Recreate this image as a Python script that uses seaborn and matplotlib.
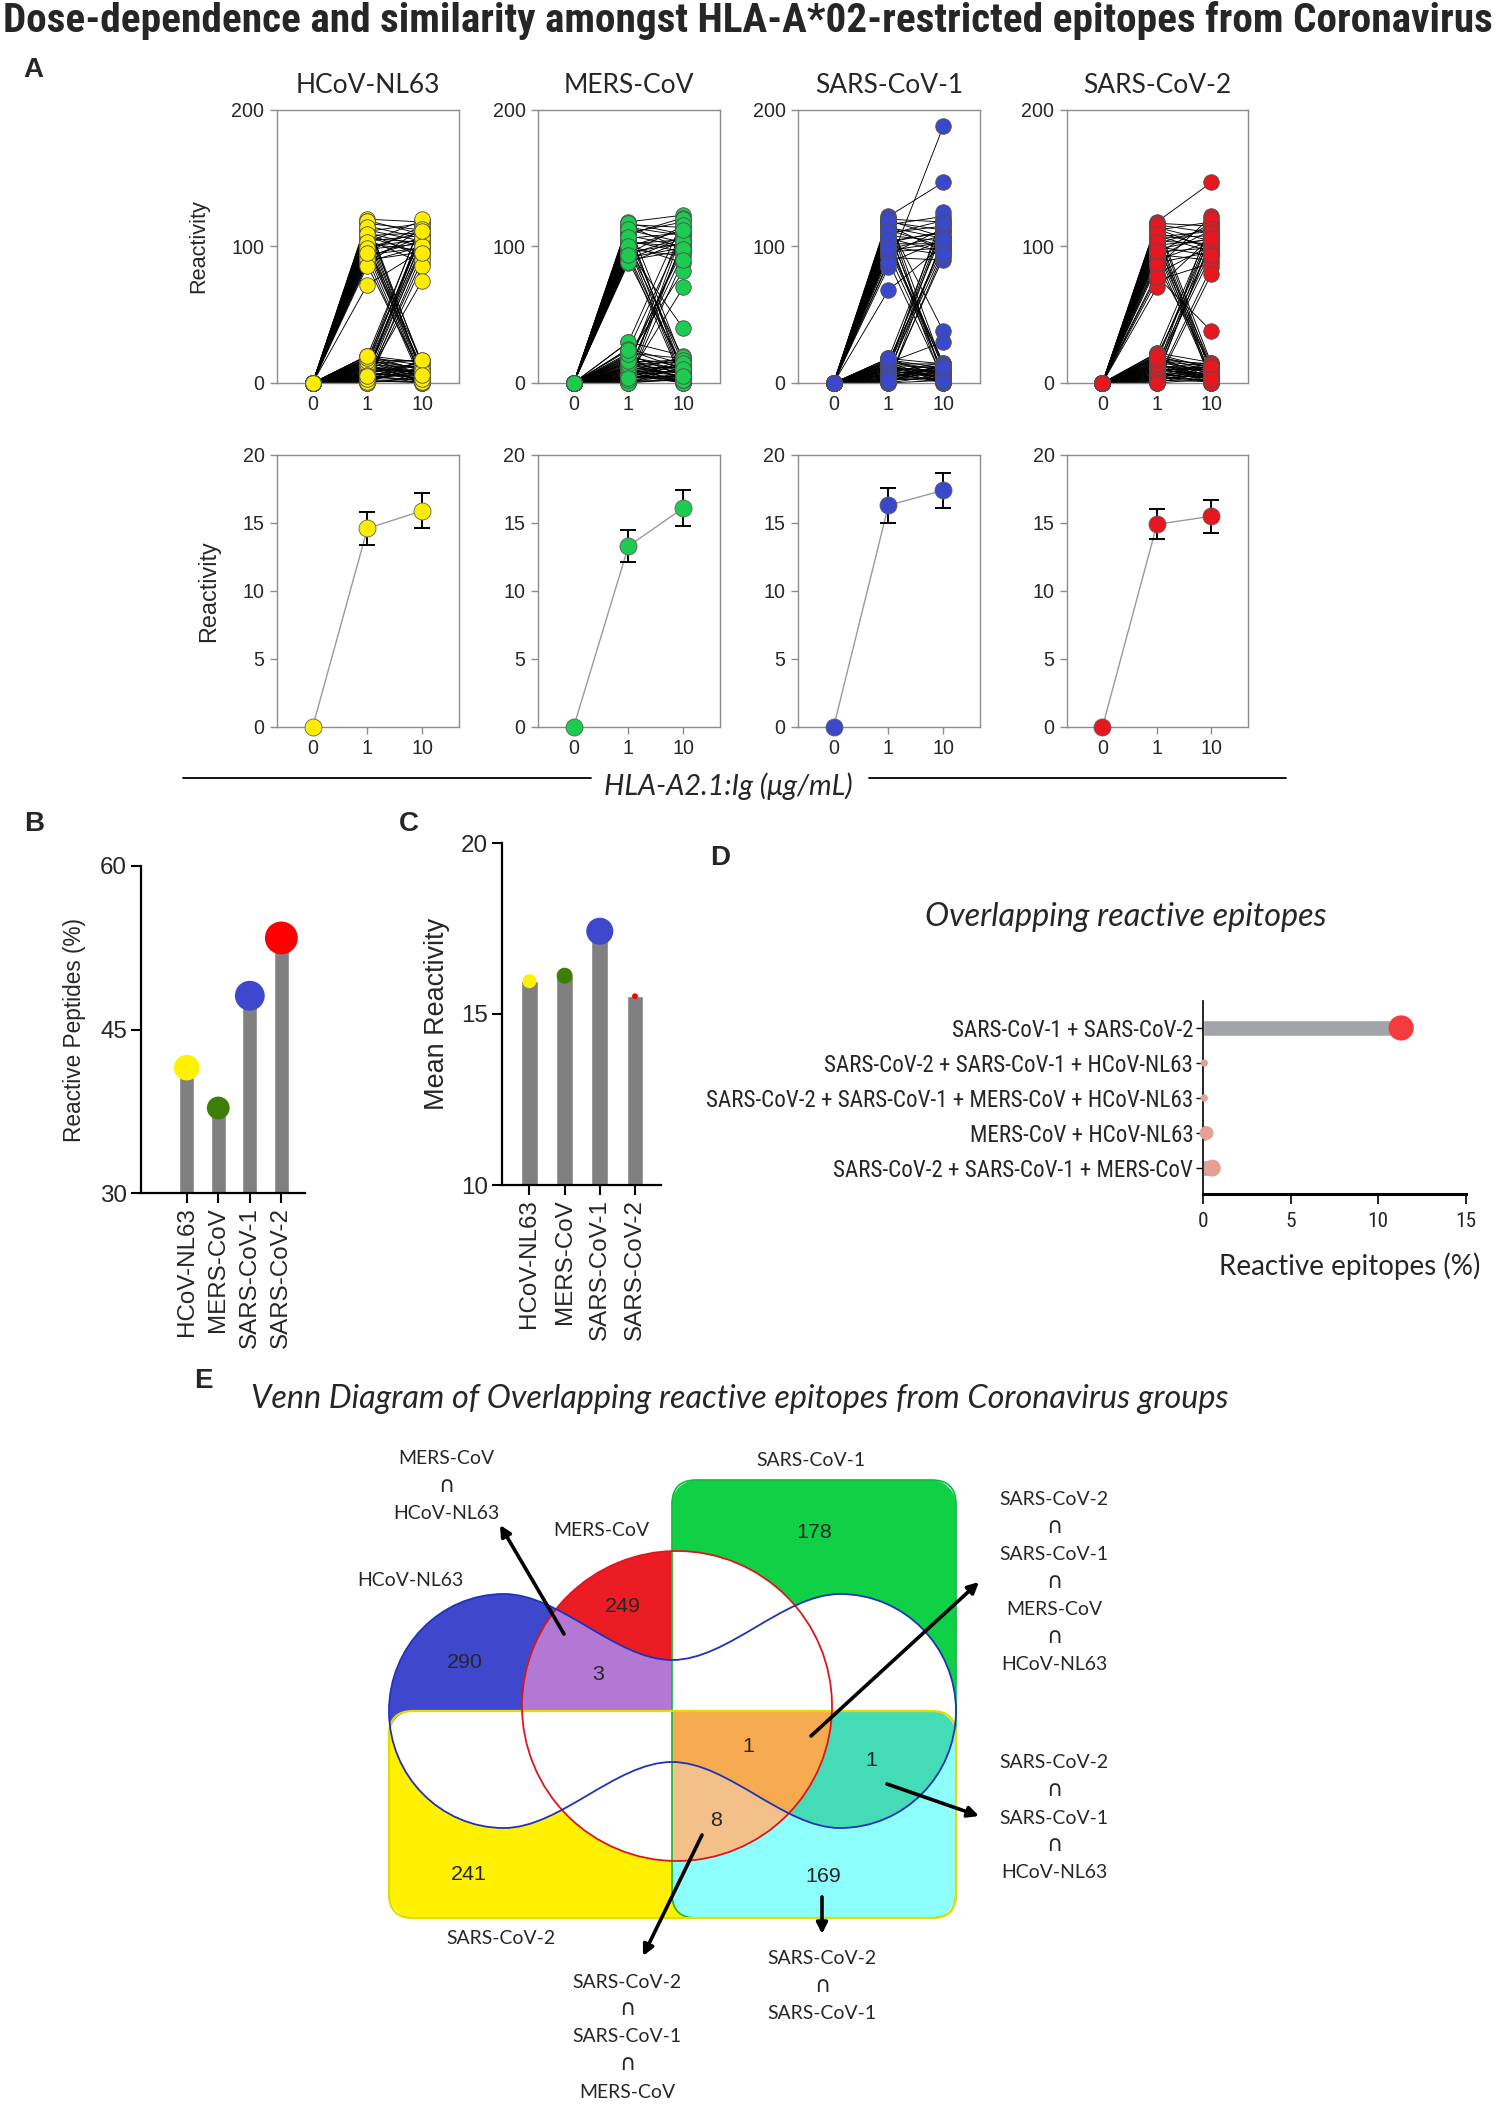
import os
import numpy as np
import pandas as pd
import matplotlib
matplotlib.use("Agg")
import matplotlib.pyplot as plt
import seaborn as sns
from matplotlib import font_manager as fm
from matplotlib.font_manager import FontProperties
from matplotlib.path import Path
from matplotlib.patches import PathPatch, FancyBboxPatch, Circle

# ----------------------------------------------------------------- data
VIRUSES = ["HCoV-NL63", "MERS-CoV", "SARS-CoV-1", "SARS-CoV-2"]
DOSES = ["0", "1", "10"]
DOSE0_REACTIVITY = 0

# per-peptide reactivity at dose 1 and dose 10 (dose 0 is 0 for all)
HCOV_PAIRS = [(120, 118), (117, 112), (115, 106), (112, 104), (110, 100), (108, 110), (106, 103),
              (104, 108), (102, 97), (100, 105), (98, 102), (96, 115), (94, 99), (92, 107), (90, 96),
              (88, 113), (105, 88), (110, 92), (119, 109), (111, 117), (107, 95), (103, 119), (99, 111),
              (93, 104), (89, 100), (118, 12), (113, 6), (107, 3), (101, 15), (97, 9), (91, 0), (86, 5),
              (119, 4), (114, 14), (109, 8), (103, 1), (99, 11), (95, 2), (72, 97), (20, 118), (15, 110),
              (12, 104), (8, 98), (5, 115), (3, 90), (0, 86), (10, 101), (18, 108), (16, 120), (13, 113),
              (9, 106), (4, 100), (1, 95), (7, 111), (20, 15), (18, 10), (16, 5), (14, 17), (12, 2),
              (10, 8), (8, 13), (6, 0), (4, 6), (2, 11), (1, 3), (0, 0), (3, 14), (7, 4), (11, 9),
              (13, 1), (17, 7), (19, 13), (17, 16), (15, 4), (13, 12), (11, 0), (9, 6), (7, 15), (5, 2),
              (3, 8), (1, 12), (0, 5), (2, 0), (4, 16), (6, 10), (8, 3), (10, 14), (12, 7), (14, 1),
              (16, 11), (18, 5), (20, 9), (0, 17), (1, 1), (3, 3), (6, 6), (5, 75)]
MERS_PAIRS = [(118, 123), (116, 114), (114, 108), (112, 103), (110, 118), (108, 100), (106, 110),
              (104, 96), (102, 105), (100, 112), (98, 93), (96, 102), (94, 107), (92, 99), (90, 97),
              (88, 104), (115, 98), (101, 88), (117, 109), (109, 121), (103, 100), (95, 115),
              (91, 106), (117, 15), (111, 8), (105, 3), (99, 18), (93, 0), (89, 11), (97, 40),
              (113, 5), (107, 13), (100, 1), (94, 9), (30, 120), (25, 110), (20, 82), (15, 101),
              (10, 95), (5, 70), (0, 106), (12, 116), (8, 104), (3, 112), (18, 98), (1, 90),
              (22, 18), (30, 20), (25, 14), (20, 8), (18, 2), (15, 17), (12, 5), (10, 12), (8, 0),
              (6, 9), (4, 3), (2, 15), (1, 6), (0, 0), (3, 11), (7, 1), (9, 19), (14, 4), (16, 10),
              (11, 7), (5, 13), (19, 12), (17, 3), (13, 16), (11, 1), (9, 8), (7, 14), (5, 4), (3, 10),
              (1, 2), (0, 12), (2, 7), (4, 17), (6, 0), (8, 6), (10, 2), (12, 11), (14, 8), (16, 15),
              (21, 5), (24, 10), (0, 3), (2, 2), (4, 5)]
SARS1_PAIRS = [(122, 147), (120, 118), (118, 112), (116, 122), (114, 106), (112, 100), (110, 115),
               (108, 104), (106, 96), (104, 110), (102, 102), (100, 94), (98, 108), (96, 99),
               (94, 113), (92, 90), (88, 105), (85, 188), (68, 101), (119, 107), (115, 97), (109, 119),
               (103, 111), (97, 103), (121, 12), (113, 5), (107, 0), (101, 15), (95, 8), (89, 3),
               (117, 38), (119, 2), (111, 10), (105, 6), (99, 13), (18, 120), (15, 111), (12, 103),
               (9, 97), (6, 116), (3, 92), (0, 107), (10, 125), (16, 99), (13, 117), (7, 105), (1, 95),
               (18, 14), (16, 6), (14, 0), (13, 11), (11, 3), (10, 9), (8, 15), (7, 1), (5, 7),
               (4, 12), (2, 4), (1, 10), (0, 0), (3, 13), (6, 2), (9, 5), (12, 8), (15, 30), (17, 11),
               (15, 2), (14, 14), (12, 4), (10, 0), (8, 7), (6, 12), (4, 1), (2, 9), (0, 6), (1, 14),
               (3, 3), (5, 10), (7, 5), (9, 13), (11, 8), (13, 1), (16, 9), (18, 4), (0, 2), (2, 12)]
SARS2_PAIRS = [(118, 147), (116, 110), (114, 104), (112, 118), (110, 100), (108, 96), (106, 108),
               (104, 102), (102, 114), (100, 93), (98, 106), (96, 99), (94, 90), (92, 112), (90, 104),
               (88, 96), (85, 122), (80, 101), (75, 88), (70, 107), (117, 115), (113, 98), (107, 111),
               (101, 105), (95, 117), (117, 14), (111, 6), (105, 0), (99, 10), (93, 3), (87, 12),
               (78, 38), (115, 9), (109, 2), (103, 13), (97, 5), (22, 116), (18, 109), (14, 98),
               (10, 120), (6, 104), (2, 85), (0, 80), (16, 113), (20, 101), (12, 94), (8, 110),
               (4, 106), (22, 15), (20, 8), (18, 2), (16, 12), (14, 5), (12, 0), (10, 10), (8, 14),
               (6, 4), (4, 9), (2, 1), (1, 13), (0, 0), (3, 6), (5, 11), (7, 3), (9, 7), (11, 15),
               (13, 2), (15, 9), (21, 11), (19, 4), (17, 14), (15, 0), (13, 8), (11, 3), (9, 12),
               (7, 6), (5, 1), (3, 15), (1, 5), (0, 10), (2, 8), (4, 2), (6, 13), (8, 0), (10, 5),
               (12, 11), (14, 3), (17, 7), (19, 12), (0, 3)]
PAIRS = [HCOV_PAIRS, MERS_PAIRS, SARS1_PAIRS, SARS2_PAIRS]

MEAN_D1 = [14.6, 13.3, 16.3, 14.9]
MEAN_D10 = [15.9, 16.1, 17.4, 15.5]
SEM_D1 = [1.2, 1.2, 1.3, 1.1]
SEM_D10 = [1.3, 1.3, 1.3, 1.2]

REACTIVE_PCT = [41.5, 37.8, 48.1, 53.4]
MEAN_REACTIVITY = [15.96, 16.12, 17.42, 15.52]

COMBOS = ["SARS-CoV-1 + SARS-CoV-2",
          "SARS-CoV-2 + SARS-CoV-1 + HCoV-NL63",
          "SARS-CoV-2 + SARS-CoV-1 + MERS-CoV + HCoV-NL63",
          "MERS-CoV + HCoV-NL63",
          "SARS-CoV-2 + SARS-CoV-1 + MERS-CoV"]
OVERLAP_PCT = [11.3, 0.07, 0.07, 0.2, 0.53]

VENN_COUNTS = {"HCoV-NL63": 290, "MERS-CoV": 249, "MERS∩HCoV": 3, "SARS-CoV-1": 178,
               "SARS-CoV-2": 241, "S2∩S1": 169, "S2∩S1∩MERS∩HCoV": 1, "S2∩S1∩HCoV": 1,
               "S2∩S1∩MERS": 8}

# ----------------------------------------------------------------- fonts
sns.set_theme(style="ticks")
avail = {f.name for f in fm.fontManager.ttflist}


def pick(*names):
    for n in names:
        if n in avail:
            return n
    return "DejaVu Sans"


ARIAL = pick("Liberation Sans", "DejaVu Sans")
CAL = pick("Lato", "Open Sans", "Noto Sans")
plt.rcParams["font.family"] = [ARIAL, "DejaVu Sans"]


def find_condensed(bold):
    prefs = ["liberationsansnarrow", "robotocondensed", "opensanscondensed", "opensans_condensed",
             "notosanscondensed", "dejavusanscondensed", "condensed", "narrow"]
    files = []
    for f in fm.fontManager.ttflist:
        base = os.path.basename(f.fname).lower().replace("-", "").replace(" ", "")
        w = f.weight if isinstance(f.weight, int) else (700 if "bold" in str(f.weight) else 400)
        isbold = w >= 600 or "bold" in base
        if isbold != bold or f.style != "normal" or "italic" in base or "oblique" in base:
            continue
        if bold and ("semibold" in base or "extrabold" in base or "black" in base):
            continue
        if not bold and ("light" in base or "thin" in base or "medium" in base):
            continue
        files.append((base, f.fname))
    for p in prefs:
        for base, fn in files:
            if p in base:
                return fn
    return None


NARROW_FILE = find_condensed(False)
NARROWB_FILE = find_condensed(True)


def fp_narrow(size, bold=False):
    fn = NARROWB_FILE if bold else NARROW_FILE
    if fn:
        return FontProperties(fname=fn, size=size)
    return FontProperties(family=ARIAL, size=size, weight="bold" if bold else "normal")


COL_A = ["#ffec00", "#1ccb4f", "#3b48cc", "#e8161e"]
COL_B = ["#fff200", "#3d7e08", "#3f48cc", "#ff0000"]

W, H = 1497, 2104
fig = plt.figure(figsize=(W / 100, H / 100), dpi=100)
fig.patch.set_facecolor("white")
R = fig.canvas.get_renderer()


def add_ax(l, t, r, b):
    return fig.add_axes([l / W, 1 - b / H, (r - l) / W, (b - t) / H])


def tsize(s, target, family=None, weight="normal", style="normal", fprop=None):
    if fprop is not None:
        fprop = fprop.copy()
        fprop.set_size(10)
        t = fig.text(0, 0, s, fontproperties=fprop)
    else:
        t = fig.text(0, 0, s, fontsize=10, family=family, weight=weight, style=style)
    w = t.get_window_extent(R).width
    t.remove()
    return 10 * target / w


ov = fig.add_axes([0, 0, 1, 1])
ov.set_xlim(0, W)
ov.set_ylim(H, 0)
ov.axis("off")

TITLE = "Dose-dependence and similarity amongst HLA-A*02-restricted epitopes from Coronavirus"
ft = fp_narrow(10, bold=True)
ft.set_size(tsize(TITLE, 1488, fprop=ft))
ov.text(748, 21, TITLE, ha="center", va="center", fontproperties=ft)
for s, (x, y) in zip("ABCDE", [(33, 70), (34, 824), (409, 824), (720, 858), (203, 1381)]):
    ov.text(x, y, s, ha="center", va="center", weight="bold", fontsize=20, family=ARIAL)

# ----------------------------------------------------------------- panel A
A_X = [(277, 459), (538, 720), (798, 980), (1067, 1248)]
A_TOP = (110, 383)
A_BOT = (455, 727)
fs_tickA = tsize("200", 33, ARIAL)
fs_titleA = tsize("HCoV-NL63", 144, CAL)


def style_A(ax):
    for sp in ax.spines.values():
        sp.set_visible(True)
        sp.set_color("#8c8c8c")
        sp.set_linewidth(1.0)
    ax.tick_params(length=5, width=1, color="#8c8c8c", pad=4, labelsize=fs_tickA)
    ax.set_xlabel("")
    for lab in ax.get_xticklabels() + ax.get_yticklabels():
        lab.set_family(ARIAL)


for i, v in enumerate(VIRUSES):
    rows = []
    for k, (a, b) in enumerate(PAIRS[i]):
        for d, val in zip(DOSES, (DOSE0_REACTIVITY, a, b)):
            rows.append(dict(peptide=k, dose=d, pos=DOSES.index(d), reactivity=val))
    df = pd.DataFrame(rows)
    ax = add_ax(A_X[i][0], A_TOP[0], A_X[i][1], A_TOP[1])
    sns.lineplot(data=df, x="pos", y="reactivity", units="peptide", estimator=None,
                 color="black", lw=0.65, ax=ax, legend=False, zorder=2)
    sns.scatterplot(data=df, x="pos", y="reactivity", color=COL_A[i], s=125,
                    edgecolor="#505050", linewidth=0.6, ax=ax, zorder=3, legend=False, clip_on=False)
    for ln in ax.lines:
        ln.set_clip_on(False)
    ax.set_xlim(-0.65, 2.67)
    ax.set_ylim(0, 200)
    ax.set_yticks([0, 100, 200])
    ax.set_xticks(range(len(DOSES)), DOSES)
    ax.set_ylabel("Reactivity" if i == 0 else "", fontsize=tsize("Reactivity", 94, ARIAL), family=ARIAL)
    ax.yaxis.set_label_coords(-0.37, 0.5)
    ax.set_title(v, fontsize=fs_titleA, family=CAL, pad=12)
    style_A(ax)

    axb = add_ax(A_X[i][0], A_BOT[0], A_X[i][1], A_BOT[1])
    dfm = pd.DataFrame({"pos": range(len(DOSES)),
                        "mean": [DOSE0_REACTIVITY, MEAN_D1[i], MEAN_D10[i]],
                        "sem": [0, SEM_D1[i], SEM_D10[i]]})
    sns.lineplot(data=dfm, x="pos", y="mean", color="#9a9a9a", lw=1.0, ax=axb, legend=False, zorder=2)
    axb.errorbar(dfm["pos"][1:], dfm["mean"][1:], yerr=dfm["sem"][1:], fmt="none", ecolor="black",
                 elinewidth=1.4, capsize=6, capthick=1.4, zorder=2.5)
    sns.scatterplot(data=dfm, x="pos", y="mean", color=COL_A[i], s=150, edgecolor="#606060",
                    linewidth=0.6, ax=axb, zorder=3, legend=False, clip_on=False)
    axb.set_xlim(-0.65, 2.67)
    axb.set_ylim(0, 20)
    axb.set_yticks([0, 5, 10, 15, 20])
    axb.set_xticks(range(len(DOSES)), DOSES)
    axb.set_ylabel("Reactivity" if i == 0 else "", fontsize=tsize("Reactivity", 102, ARIAL), family=ARIAL)
    axb.yaxis.set_label_coords(-0.31, 0.5)
    style_A(axb)

ov.plot([183, 591], [778, 778], color="black", lw=1.3)
ov.plot([869, 1286], [778, 778], color="black", lw=1.3)
ov.text(728, 786, "HLA-A2.1:Ig (μg/mL)", ha="center", va="center", style="italic",
        family=[CAL, "DejaVu Sans"],
        fontsize=tsize("HLA-A2.1:Ig (μg/mL)", 249, [CAL, "DejaVu Sans"], style="italic"))

# ----------------------------------------------------------------- panels B, C
fs_tickBC = tsize("60", 27, ARIAL)
fs_catBC = tsize("HCoV-NL63", 129, ARIAL)


def style_BC(ax):
    sns.despine(ax=ax)
    for sp in ("left", "bottom"):
        ax.spines[sp].set_color("black")
        ax.spines[sp].set_linewidth(1.6)
    ax.tick_params(length=7, width=1.5, color="black", labelsize=fs_tickBC, pad=3)
    ax.tick_params(axis="x", labelsize=fs_catBC)
    ax.set_xlabel("")


dfB = pd.DataFrame({"virus": VIRUSES, "pct": REACTIVE_PCT, "mean": MEAN_REACTIVITY})
dfB["pos"] = np.arange(len(VIRUSES))
pal = dict(zip(VIRUSES, COL_B))

axB = add_ax(141, 866, 305, 1193)
sns.barplot(data=dfB, x="pos", y="pct", native_scale=True, width=0.48, color="#808080",
            saturation=1, errorbar=None, ax=axB, zorder=2)
sns.scatterplot(data=dfB, x="pos", y="pct", hue="virus", palette=pal, size="pct", sizes=(270, 560),
                edgecolor="none", legend=False, ax=axB, zorder=3, clip_on=False)
axB.set_xlim(-1.45, 3.75)
axB.set_ylim(30, 60)
axB.set_yticks([30, 45, 60])
axB.set_xticks(dfB["pos"], VIRUSES, rotation=90)
axB.set_ylabel("Reactive Peptides (%)", fontsize=tsize("Reactive Peptides (%)", 225, ARIAL), labelpad=10)
style_BC(axB)

axC = add_ax(502, 843, 661, 1185)
sns.barplot(data=dfB, x="pos", y="mean", native_scale=True, width=0.48, color="#808080",
            saturation=1, errorbar=None, ax=axC, zorder=2)
sns.scatterplot(data=dfB, x="pos", y="mean", hue="virus", palette=pal, size="mean", sizes=(18, 380),
                edgecolor="none", legend=False, ax=axC, zorder=3, clip_on=False)
axC.set_xlim(-0.78, 3.74)
axC.set_ylim(10, 20)
axC.set_yticks([10, 15, 20])
axC.set_xticks(dfB["pos"], VIRUSES, rotation=90)
axC.set_ylabel("Mean Reactivity", fontsize=tsize("Mean Reactivity", 193, ARIAL), labelpad=8)
style_BC(axC)

# ----------------------------------------------------------------- panel D
D_COLORS = ["#f43c3c", "#e3a093", "#e3a093", "#e3a093", "#e3a093"]
D_SIZES = [330, 28, 28, 100, 150]
dfD = pd.DataFrame({"combo": COMBOS, "pct": OVERLAP_PCT})
dfD["pos"] = np.arange(len(COMBOS))
axD = add_ax(1203, 1001, 1466, 1194)
sns.barplot(data=dfD, x="pct", y="pos", orient="h", native_scale=True, width=0.48, color="#a3a3aa",
            saturation=1, errorbar=None, ax=axD, zorder=2)
sns.scatterplot(data=dfD, x="pct", y="pos", hue="combo", palette=dict(zip(COMBOS, D_COLORS)),
                size="combo", sizes=dict(zip(COMBOS, D_SIZES)), edgecolor="none", legend=False,
                ax=axD, zorder=3, clip_on=False)
axD.set_xlim(0, 15)
axD.set_ylim(4.74, -0.77)
axD.set_xticks([0, 5, 10, 15])
axD.set_yticks(dfD["pos"], COMBOS)
axD.set_xlabel("")
axD.set_ylabel("")
sns.despine(ax=axD)
axD.spines["left"].set_linewidth(1.2)
axD.spines["left"].set_color("black")
axD.spines["bottom"].set_linewidth(2.2)
axD.spines["bottom"].set_color("black")
fsD = tsize(COMBOS[2], 487, fprop=fp_narrow(10))
fsDx = tsize("15", 21, fprop=fp_narrow(10))
axD.tick_params(axis="y", length=5, width=1, color="black", pad=2)
axD.tick_params(axis="x", length=7, width=1.2, color="black", pad=6)
for lab in axD.get_yticklabels():
    lab.set_fontproperties(fp_narrow(fsD))
for lab in axD.get_xticklabels():
    lab.set_fontproperties(fp_narrow(fsDx))
ov.text(1126, 917, "Overlapping reactive epitopes", ha="center", va="center", style="italic", family=CAL,
        fontsize=tsize("Overlapping reactive epitopes", 401, CAL, style="italic"))
ov.text(1350, 1266, "Reactive epitopes (%)", ha="center", va="center", family=CAL,
        fontsize=tsize("Reactive epitopes (%)", 261, CAL))

# ----------------------------------------------------------------- panel E (Venn)
VT = "Venn Diagram of Overlapping reactive epitopes from Coronavirus groups"
ov.text(740, 1399, VT, ha="center", va="center", style="italic", family=CAL,
        fontsize=tsize(VT, 979, CAL, style="italic"))

R1 = (672, 1480, 956, 1918, 24)     # SARS-CoV-1 box
R2 = (389, 1711, 956, 1918, 24)     # SARS-CoV-2 box
CIRC = (677, 1706, 155)             # MERS-CoV circle
k = 0.5523
hv = [(389, 1711), (389, 1711 - k * 117), (504 - k * 115, 1594), (504, 1594),
      (560, 1594), (616, 1660), (672, 1660),
      (728, 1660), (784, 1594), (840, 1594),
      (840 + k * 116, 1594), (956, 1711 - k * 117), (956, 1711)]
bottom = [(x, 3422 - y) for (x, y) in hv[::-1]][1:]
verts = hv + bottom + [(389, 1711)]
codes = [Path.MOVETO] + [Path.CURVE4] * 12 + [Path.CURVE4] * 12 + [Path.CLOSEPOLY]
HPATH = Path(verts, codes)

vx0, vx1, vy0, vy1 = 380, 965, 1470, 1925
xs = np.linspace(vx0, vx1, (vx1 - vx0) * 2)
ys = np.linspace(vy0, vy1, (vy1 - vy0) * 2)
X, Y = np.meshgrid(xs, ys)


def in_rrect(x0, y0, x1, y1, r):
    inside = (X >= x0) & (X <= x1) & (Y >= y0) & (Y <= y1)
    cx = np.clip(X, x0 + r, x1 - r)
    cy = np.clip(Y, y0 + r, y1 - r)
    return inside & ((X - cx) ** 2 + (Y - cy) ** 2 <= r * r)


m1 = in_rrect(*R1)
m2 = in_rrect(*R2)
mc = (X - CIRC[0]) ** 2 + (Y - CIRC[1]) ** 2 <= CIRC[2] ** 2
mh = HPATH.contains_points(np.column_stack([X.ravel(), Y.ravel()])).reshape(X.shape)
img = np.ones(X.shape + (3,))


def paint(mask, hexcol):
    img[mask] = matplotlib.colors.to_rgb(hexcol)


paint(mh & ~mc & ~m1 & ~m2, "#3f48cc")
paint(mc & ~mh & ~m1 & ~m2, "#ec1c24")
paint(mc & mh & ~m1 & ~m2, "#b478d4")
paint(m1 & ~m2 & ~mc & ~mh, "#10d146")
paint(m2 & ~m1 & ~mc & ~mh, "#fff200")
paint(m1 & m2 & ~mc & ~mh, "#8cfffb")
paint(m1 & m2 & mc & mh, "#f7ab52")
paint(m1 & m2 & mh & ~mc, "#45dcb6")
paint(m1 & m2 & mc & ~mh, "#f3c08a")
ov.imshow(img, extent=(vx0, vx1, vy1, vy0), origin="upper", aspect="auto", interpolation="antialiased",
          zorder=1)
ov.set_xlim(0, W)
ov.set_ylim(H, 0)

ov.add_patch(FancyBboxPatch((R1[0], R1[1]), R1[2] - R1[0], R1[3] - R1[1],
                            boxstyle=f"round,pad=0,rounding_size={R1[4]}", fill=False,
                            edgecolor="#12b83c", lw=1.2, zorder=2))
ov.add_patch(FancyBboxPatch((R2[0], R2[1]), R2[2] - R2[0], R2[3] - R2[1],
                            boxstyle=f"round,pad=0,rounding_size={R2[4]}", fill=False,
                            edgecolor="#e2dc00", lw=1.6, zorder=2))
ov.add_patch(Circle(CIRC[:2], CIRC[2], fill=False, edgecolor="#e0141c", lw=1.3, zorder=3))
ov.add_patch(PathPatch(HPATH, fill=False, edgecolor="#1f32b8", lw=1.3, zorder=3))

fs_num = tsize("290", 36, ARIAL)
NUM_POS = {"HCoV-NL63": (465, 1663), "MERS-CoV": (623, 1607), "MERS∩HCoV": (598, 1675),
           "SARS-CoV-1": (814, 1532), "SARS-CoV-2": (469, 1874), "S2∩S1": (823, 1876),
           "S2∩S1∩MERS∩HCoV": (748, 1747), "S2∩S1∩HCoV": (871, 1761), "S2∩S1∩MERS": (716, 1820)}
for key, n in VENN_COUNTS.items():
    ov.text(*NUM_POS[key], str(n), ha="center", va="center", fontsize=fs_num, family=ARIAL, zorder=5)

fs_v = tsize("SARS-CoV-1", 109, CAL)
LINE_GAP = 27.5
VENN_LABELS = [("MERS-CoV\n∩\nHCoV-NL63", 446, 1486), ("MERS-CoV", 601, 1531), ("HCoV-NL63", 410, 1581),
               ("SARS-CoV-1", 811, 1461), ("SARS-CoV-2", 501, 1938),
               ("SARS-CoV-2\n∩\nSARS-CoV-1\n∩\nMERS-CoV\n∩\nHCoV-NL63", 1054, 1582),
               ("SARS-CoV-2\n∩\nSARS-CoV-1\n∩\nHCoV-NL63", 1054, 1818),
               ("SARS-CoV-2\n∩\nSARS-CoV-1", 822, 1986),
               ("SARS-CoV-2\n∩\nSARS-CoV-1\n∩\nMERS-CoV", 627, 2037)]
for s, x, y in VENN_LABELS:
    lines = s.split("\n")
    n = len(lines)
    for j, line in enumerate(lines):
        yy = y + (j - (n - 1) / 2) * LINE_GAP
        if line == "∩":
            ov.text(x, yy, line, ha="center", va="center", fontsize=fs_v * 1.15,
                    family=["DejaVu Sans"], zorder=5)
        else:
            ov.text(x, yy, line, ha="center", va="center", fontsize=fs_v, family=CAL, zorder=5)

ARROWS = [((564, 1634), (500, 1525)), ((811, 1736), (979, 1582)), ((887, 1784), (979, 1816)),
          ((822, 1897), (822, 1934)), ((702, 1835), (643, 1956))]
for tail, head in ARROWS:
    ov.annotate("", xy=head, xytext=tail,
                arrowprops=dict(arrowstyle="-|>", lw=2.6, color="black", mutation_scale=16,
                                shrinkA=0, shrinkB=0), zorder=6)

fig.savefig("out.png", dpi=100, facecolor="white")
